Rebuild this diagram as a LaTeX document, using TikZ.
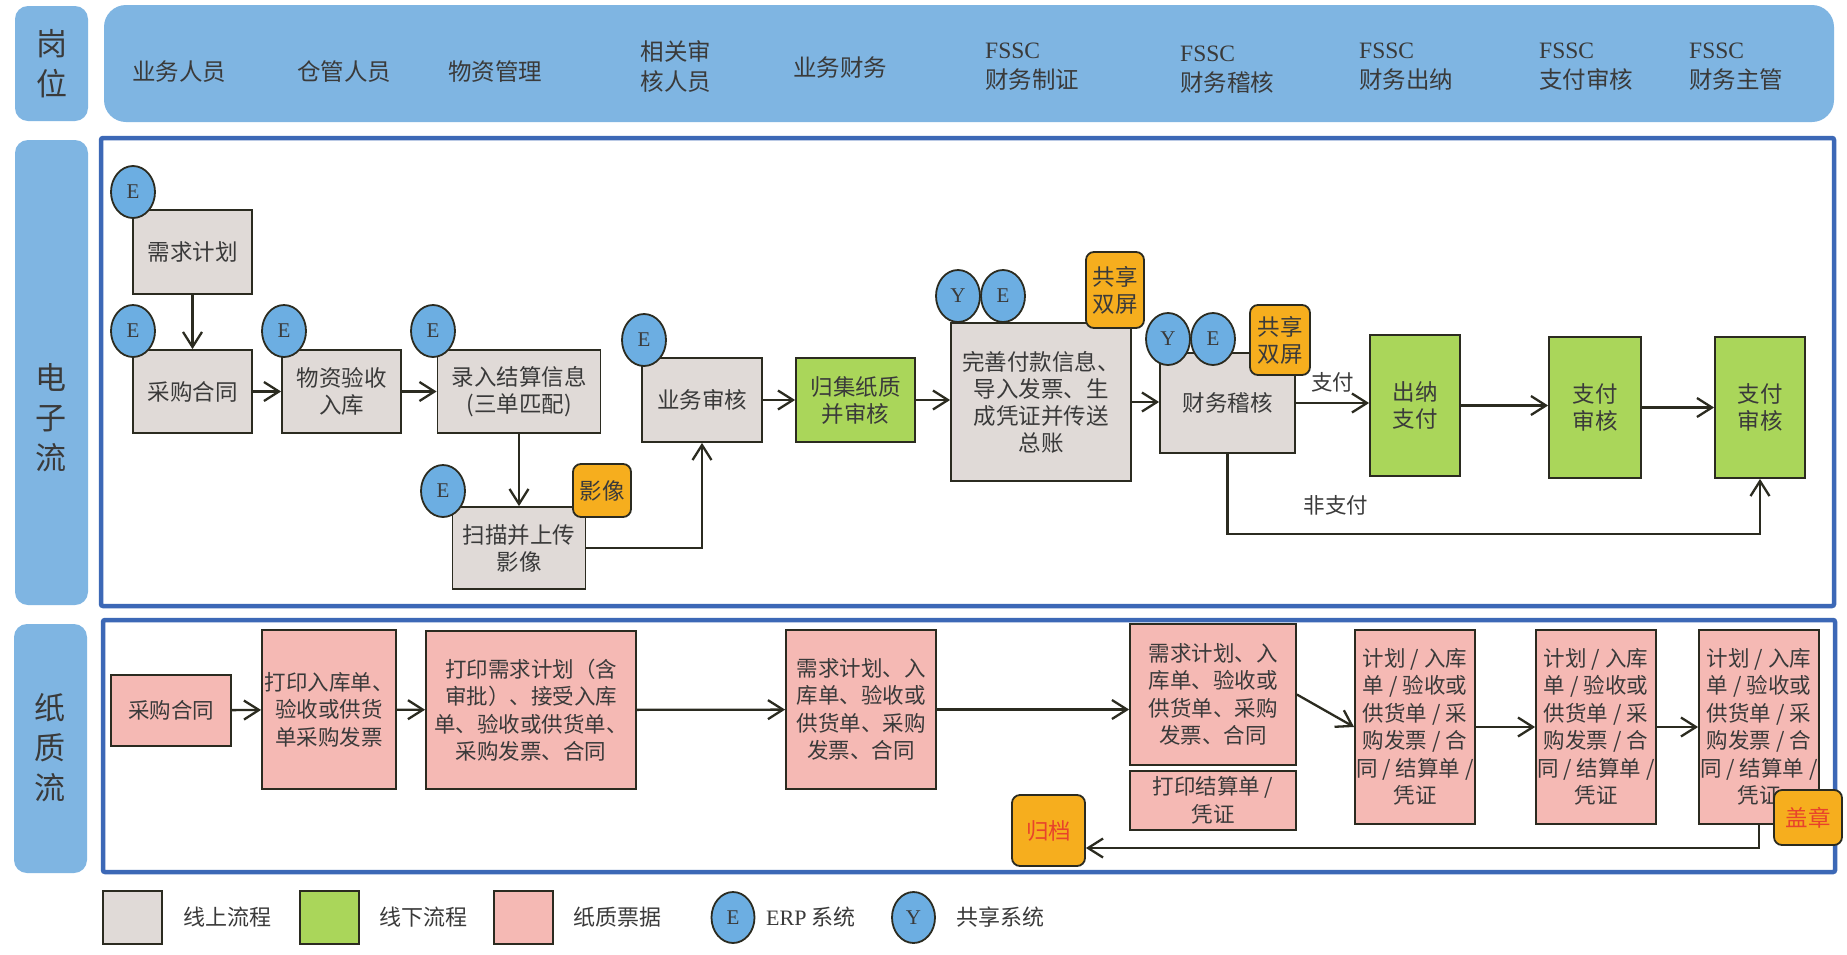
\documentclass[tikz,border=0pt]{standalone}
\usepackage{fontspec}
\setmainfont{Liberation Serif}
\newfontfamily\cjk{Noto Sans CJK SC}
\usetikzlibrary{arrows.meta,shapes.geometric}
\definecolor{hdrblue}{RGB}{127,181,226}
\definecolor{frameblue}{RGB}{60,104,182}
\definecolor{ellblue}{RGB}{108,174,226}
\definecolor{grayfill}{RGB}{224,218,215}
\definecolor{greenfill}{RGB}{170,214,90}
\definecolor{pinkfill}{RGB}{245,185,180}
\definecolor{orangefill}{RGB}{246,174,30}
\definecolor{linec}{RGB}{43,43,32}
\definecolor{txt}{RGB}{58,58,58}
\definecolor{redtxt}{RGB}{232,67,43}
\begin{document}
\begin{tikzpicture}[x=1pt,y=-1pt,
  lanebox/.style={fill=hdrblue, rounded corners=13pt, inner sep=0pt},
  lanetxt/.style={font=\cjk\fontsize{31}{40}\selectfont, text=txt, align=center, inner sep=0pt},
  hl/.style={font=\cjk\fontsize{23.5}{30}\selectfont, text=txt, align=center, inner sep=0pt},
  hlf/.style={hl, align=left, anchor=west},
  frame/.style={draw=frameblue, line width=4.5pt, rounded corners=2pt},
  boxbase/.style={draw=linec, line width=1.8pt, inner sep=0pt, align=center, text=txt},
  gbox/.style={boxbase, fill=grayfill, font=\cjk\fontsize{22.5}{27}\selectfont},
  grbox/.style={boxbase, fill=greenfill, font=\cjk\fontsize{22.5}{27}\selectfont},
  pbox/.style={boxbase, fill=pinkfill, font=\cjk\fontsize{21.5}{27.5}\selectfont},
  obox/.style={boxbase, fill=orangefill, rounded corners=8pt, font=\cjk\fontsize{22.5}{27}\selectfont},
  ell/.style={ellipse, draw=linec, line width=1.8pt, fill=ellblue, minimum width=44pt, minimum height=52pt, inner sep=0pt, text=txt, font=\rmfamily\fontsize{21}{21}\selectfont},
  arr/.style={draw=linec, line width=2.3pt, -{Straight Barb[length=15pt,width=19pt]}},
  lbl/.style={font=\cjk\fontsize{21.5}{26}\selectfont, text=txt, inner sep=0pt},
  legtxt/.style={font=\cjk\fontsize{22}{26}\selectfont, text=txt, inner sep=0pt, anchor=west}
]
\useasboundingbox (0,0) rectangle (1847,954);
\fill[white] (0,0) rectangle (1847,954);

% ---------- header ----------
\node[lanebox, minimum width=73pt, minimum height=115pt] (lgw) at (51.5,63.5) {};
\node[lanetxt] (tgw) at (lgw.center) {岗\\位};
\node[fill=hdrblue, rounded corners=22pt, minimum width=1730pt, minimum height=117pt, inner sep=0pt] (hdr) at (969,63.5) {};
\node[hl] (h1) at (179,72) {业务人员};
\node[hl] (h2) at (344,72) {仓管人员};
\node[hl] (h3) at (495,72) {物资管理};
\node[hl] (h4) at (676,67) {相关审\\核人员};
\node[hl] (h5) at (840,68) {业务财务};
\node[hlf] (h6) at (985,67) {{\rmfamily FSSC}\\财务制证};
\node[hlf] (h7) at (1180,70) {{\rmfamily FSSC}\\财务稽核};
\node[hlf] (h8) at (1359,67) {{\rmfamily FSSC}\\财务出纳};
\node[hlf] (h9) at (1539,67) {{\rmfamily FSSC}\\支付审核};
\node[hlf] (h10) at (1689,67) {{\rmfamily FSSC}\\财务主管};

% ---------- lanes ----------
\node[lanebox, minimum width=73pt, minimum height=465pt] (ldz) at (51.5,372.5) {};
\node[lanetxt] (tdz) at (51,418) {电\\子\\流};
\node[lanebox, minimum width=73pt, minimum height=249pt] (lzz) at (50.5,748.5) {};
\node[lanetxt] (tzz) at (50,748) {纸\\质\\流};
\draw[frame] (101,138) rectangle (1834,606);
\draw[frame] (103,620) rectangle (1835,872);

% ---------- electronic flow ----------
\node[gbox, minimum width=119pt, minimum height=84pt] (xq) at (192.5,252) {需求计划};
\node[gbox, minimum width=119pt, minimum height=83pt] (cg) at (192.5,391.5) {采购合同};
\node[gbox, minimum width=119pt, minimum height=83pt] (wz) at (341.5,391.5) {物资验收\\入库};
\node[gbox, minimum width=163pt, minimum height=83pt] (lr) at (519,391.5) {录入结算信息\\(三单匹配)};
\node[gbox, minimum width=133pt, minimum height=82pt] (sm) at (519,548) {扫描并上传\\影像};
\node[gbox, minimum width=120pt, minimum height=84pt] (yw) at (702,400) {业务审核};
\node[grbox, minimum width=119pt, minimum height=84pt] (gj) at (855.5,400) {归集纸质\\并审核};
\node[gbox, minimum width=180pt, minimum height=158pt] (ws) at (1041,402) {完善付款信息、\\导入发票、生\\成凭证并传送\\总账};
\node[gbox, minimum width=135pt, minimum height=100pt] (cw) at (1227.5,403) {财务稽核};
\node[grbox, minimum width=90pt, minimum height=141pt] (cn) at (1415,405.5) {出纳\\支付};
\node[grbox, minimum width=92pt, minimum height=141pt] (zf1) at (1595,407.5) {支付\\审核};
\node[grbox, minimum width=90pt, minimum height=141pt] (zf2) at (1760,407.5) {支付\\审核};

\node[ell] (e1) at (133,192) {E};
\node[ell] (e2) at (133,331) {E};
\node[ell] (e3) at (284,331) {E};
\node[ell] (e4) at (433,331) {E};
\node[ell] (e5) at (644,340) {E};
\node[ell] (e6) at (443,491) {E};
\node[ell] (y1) at (958,296) {Y};
\node[ell] (e7) at (1003,296) {E};
\node[ell] (y2) at (1168,339) {Y};
\node[ell] (e8) at (1213,339) {E};

\node[obox, minimum width=58pt, minimum height=53pt] (o1) at (602,490.5) {影像};
\node[obox, minimum width=58pt, minimum height=76pt] (o2) at (1115,290) {共享\\双屏};
\node[obox, minimum width=60pt, minimum height=70pt] (o3) at (1280,340) {共享\\双屏};

\draw[arr] (xq) -- (cg);
\draw[arr] (cg) -- (wz);
\draw[arr] (wz) -- (lr);
\draw[arr] (lr) -- (sm);
\draw[arr] (sm.east) -| (yw.south);
\draw[arr] (yw) -- (gj);
\draw[arr] (gj.east) -- (gj.east -| ws.west);
\draw[arr] (ws.east) -- (ws.east -| cw.west);
\draw[arr] (cw.east) -- (cw.east -| cn.west) node[lbl, midway, above=10pt] (tzf) {支付};
\draw[arr] (cn.east) -- (cn.east -| zf1.west);
\draw[arr] (zf1.east) -- (zf1.east -| zf2.west);
\coordinate (np) at (1500,534);
\draw[arr] (cw.south) |- (np) -| (zf2.south);
\node[lbl] (tfzf) at (1336,505) {非支付};

% ---------- paper flow ----------
\node[pbox, minimum width=120pt, minimum height=71pt] (p1) at (171,710.5) {采购合同};
\node[pbox, minimum width=134pt, minimum height=159pt] (p2) at (329,709.5) {打印入库单、\\验收或供货\\单采购发票};
\node[pbox, minimum width=210pt, minimum height=158pt] (p3) at (531,710) {打印需求计划（含\\审批）、接受入库\\单、验收或供货单、\\采购发票、合同};
\node[pbox, minimum width=150pt, minimum height=159pt] (p4) at (861,709.5) {需求计划、入\\库单、验收或\\供货单、采购\\发票、合同};
\node[pbox, minimum width=166pt, minimum height=141pt] (p5) at (1213,694.5) {需求计划、入\\库单、验收或\\供货单、采购\\发票、合同};
\node[pbox, minimum width=166pt, minimum height=59pt] (p6) at (1213,800.5) {打印结算单 /\\凭证};
\node[pbox, minimum width=120pt, minimum height=194pt] (p7) at (1415,727) {计划 / 入库\\单 / 验收或\\供货单 / 采\\购发票 / 合\\同 / 结算单 /\\凭证};
\node[pbox, minimum width=120pt, minimum height=194pt] (p8) at (1596,727) {计划 / 入库\\单 / 验收或\\供货单 / 采\\购发票 / 合\\同 / 结算单 /\\凭证};
\node[pbox, minimum width=120pt, minimum height=194pt] (p9) at (1759,727) {计划 / 入库\\单 / 验收或\\供货单 / 采\\购发票 / 合\\同 / 结算单 /\\凭证};
\node[obox, minimum width=68pt, minimum height=55pt, text=redtxt] (gz) at (1808,817.5) {盖章};
\node[obox, minimum width=73pt, minimum height=71pt, text=redtxt] (gd) at (1048.5,830.5) {归档};

\draw[arr] (p1) -- (p2);
\draw[arr] (p2) -- (p3);
\draw[arr] (p3) -- (p4);
\draw[arr] (p4.east) -- (p4.east -| p5.west);
\draw[arr] (p5.east) -- (p7.west);
\draw[arr] (p7) -- (p8);
\draw[arr] (p8) -- (p9);
\draw[arr] (p9.south) |- ([yshift=-17.5pt]gd.east);

% ---------- legend ----------
\node[boxbase, fill=grayfill, minimum width=59pt, minimum height=53pt] (lg1) at (132.5,917.5) {};
\node[legtxt] (lt1) at (183,917) {线上流程};
\node[boxbase, fill=greenfill, minimum width=59pt, minimum height=53pt] (lg2) at (329.5,917.5) {};
\node[legtxt] (lt2) at (379,917) {线下流程};
\node[boxbase, fill=pinkfill, minimum width=59pt, minimum height=53pt] (lg3) at (523.5,917.5) {};
\node[legtxt] (lt3) at (573,917) {纸质票据};
\node[ell, minimum width=43pt, minimum height=51pt] (lg4) at (733,917.5) {E};
\node[legtxt] (lt4) at (766,917) {{\rmfamily ERP} 系统};
\node[ell, minimum width=43pt, minimum height=51pt] (lg5) at (913.5,917.5) {Y};
\node[legtxt] (lt5) at (956,917) {共享系统};
\end{tikzpicture}
\end{document}
